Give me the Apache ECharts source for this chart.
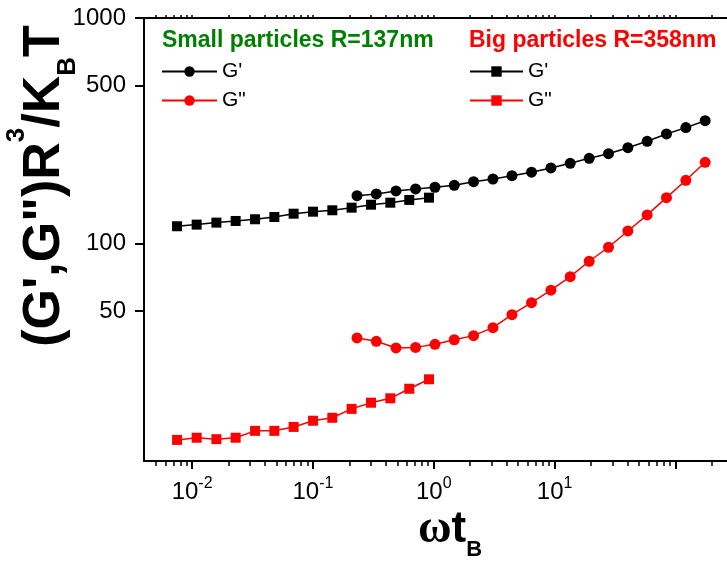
<!DOCTYPE html>
<html>
<head>
<meta charset="utf-8">
<script src="https://cdn.jsdelivr.net/npm/echarts@6/dist/echarts.min.js"></script>
<style>
html,body{margin:0;padding:0;background:#fff;}
#chart{width:727px;height:565px;}
</style>
</head>
<body>
<div id="chart"></div>
<script>
// ---- data ----
var bigX = [0.00751, 0.01091, 0.01589, 0.02294, 0.0332, 0.04794, 0.06923, 0.1002, 0.1447, 0.209, 0.3024, 0.4368, 0.6269, 0.9128];
var bigGp = [119, 121, 123.5, 125.6, 127.8, 130.8, 135.3, 138.1, 140.1, 143.9, 148.3, 151.4, 155.7, 159.4];
var bigGpp = [13.4, 13.7, 13.5, 13.7, 14.7, 14.7, 15.3, 16.3, 16.8, 18.4, 19.6, 20.5, 22.6, 24.9];

var smallX = [0.2316, 0.3345, 0.4867, 0.7069, 1.023, 1.477, 2.134, 3.088, 4.435, 6.441, 9.32, 13.46, 19.33, 27.92, 40.39, 58.33, 84.27, 121.9, 176.1];
var smallGp = [162.7, 165.5, 170.7, 174.2, 177.3, 180.9, 187.7, 192.9, 199.5, 206.8, 215.9, 226.5, 238.4, 249.8, 265.7, 283.6, 305.6, 326.1, 350.1];
var smallGpp = [38.0, 36.7, 34.3, 34.5, 35.6, 37.3, 38.9, 42.2, 48.2, 54.5, 61.9, 71.1, 83.2, 96.0, 113.4, 133.6, 159.4, 190.4, 228.8];

var xMajorTicks = [0.01, 0.1, 1, 10, 100];
var xLabelTicks = [0.01, 0.1, 1, 10];
var xMinorTicks = [0.005, 0.006, 0.007, 0.008, 0.009,
  0.02, 0.03, 0.04, 0.05, 0.06, 0.07, 0.08, 0.09,
  0.2, 0.3, 0.4, 0.5, 0.6, 0.7, 0.8, 0.9,
  2, 3, 4, 5, 6, 7, 8, 9,
  20, 30, 40, 50, 60, 70, 80, 90, 200];
var yTicks = [50, 100, 500, 1000];

var smallTitle = 'Small particles R=137nm';
var bigTitle = 'Big particles R=358nm';

function pairs(xs, ys) { return xs.map(function (x, i) { return [x, ys[i]]; }); }

var FONT = "'Liberation Sans', Arial, sans-serif";
var chart = echarts.init(document.getElementById('chart'), null, {renderer: 'canvas'});

var xCommon = {type: 'log', min: 0.004, max: 267, splitLine: {show: false}, gridIndex: 0};

var option = {
  animation: false,
  backgroundColor: '#ffffff',
  grid: {left: 144, top: 18, right: 0, bottom: 104, show: false},
  xAxis: [
    Object.assign({}, xCommon, {
      position: 'bottom',
      axisLine: {show: true, onZero: false, lineStyle: {color: '#000', width: 2}},
      axisTick: {show: true, length: 8, lineStyle: {color: '#000', width: 2}, customValues: xMajorTicks},
      axisLabel: {
        show: true, margin: 15, customValues: xLabelTicks, color: '#000', fontFamily: FONT,
        formatter: function (v) { return '{b|10}{s|' + Math.round(Math.log10(v)) + '}'; },
        rich: {
          b: {fontSize: 24, fontFamily: FONT, color: '#000'},
          s: {fontSize: 16, fontFamily: FONT, color: '#000', padding: [0, 0, 16, 0]}
        }
      }
    }),
    Object.assign({}, xCommon, {
      position: 'bottom',
      axisLine: {show: false, onZero: false},
      axisTick: {show: true, length: 5, lineStyle: {color: '#000', width: 1.5}, customValues: xMinorTicks},
      axisLabel: {show: false}
    }),
    Object.assign({}, xCommon, {
      position: 'top',
      axisLine: {show: true, onZero: false, lineStyle: {color: '#000', width: 2}},
      axisTick: {show: true, length: 3, lineStyle: {color: '#000', width: 1.5}, customValues: xMajorTicks.concat(xMinorTicks)},
      axisLabel: {show: false}
    })
  ],
  yAxis: [{
    type: 'log', min: 10.8, max: 1000, position: 'left',
    splitLine: {show: false},
    axisLine: {show: true, onZero: false, lineStyle: {color: '#000', width: 2}},
    axisTick: {show: true, length: 9, lineStyle: {color: '#000', width: 2}, customValues: yTicks},
    axisLabel: {
      show: true, margin: 18, customValues: yTicks, fontSize: 24, fontFamily: FONT, color: '#000',
      formatter: function (v) { return String(Math.round(v)); }
    }
  }],
  legend: [
    {
      data: ["G' small", 'G" small'], orient: 'vertical', left: 161, top: 61, padding: 0,
      itemWidth: 55, itemHeight: 13, itemGap: 8, selectedMode: false,
      textStyle: {fontSize: 21, fontFamily: FONT, color: '#000'},
      formatter: function (n) { return n.split(' ')[0]; }
    },
    {
      data: ["G' big", 'G" big'], orient: 'vertical', left: 469, top: 61, padding: 0,
      itemWidth: 53, itemHeight: 13, itemGap: 8, selectedMode: false,
      textStyle: {fontSize: 21, fontFamily: FONT, color: '#000'},
      formatter: function (n) { return n.split(' ')[0]; }
    }
  ],
  graphic: [
    {type: 'text', left: 162, top: 29, style: {text: smallTitle, fill: '#008000', font: 'bold 23px ' + FONT}},
    {type: 'text', left: 469, top: 29, style: {text: bigTitle, fill: '#ff0000', font: 'bold 23px ' + FONT}},
    {
      type: 'text', x: 45, y: 186, rotation: Math.PI / 2,
      style: {
        text: '{a|(G\',G")R}{s|3}{a|/K}{d|B}{a|T}',
        align: 'center', verticalAlign: 'middle',
        rich: {
          a: {fontSize: 52, fontWeight: 'bold', fontFamily: FONT, fill: '#000'},
          s: {fontSize: 26, fontWeight: 'bold', fontFamily: FONT, fill: '#000', padding: [0, 0, 56, 0]},
          d: {fontSize: 26, fontWeight: 'bold', fontFamily: FONT, fill: '#000', padding: [46, 0, 0, 0]}
        }
      }
    },
    {
      type: 'text', x: 450, y: 530,
      style: {
        text: '{w|ω}{a|t}{d|B}',
        align: 'center', verticalAlign: 'middle',
        rich: {
          w: {fontSize: 46, fontWeight: 'bold', fontFamily: "'Liberation Serif', 'DejaVu Serif', serif", fill: '#000'},
          a: {fontSize: 44, fontWeight: 'bold', fontFamily: FONT, fill: '#000'},
          d: {fontSize: 22, fontWeight: 'bold', fontFamily: FONT, fill: '#000', padding: [40, 0, 0, 0]}
        }
      }
    }
  ],
  series: [
    {
      name: "G' big", type: 'line', xAxisIndex: 0, yAxisIndex: 0,
      data: pairs(bigX, bigGp), symbol: 'rect', symbolSize: 10,
      itemStyle: {color: '#000'}, lineStyle: {color: '#000', width: 1.5}
    },
    {
      name: 'G" big', type: 'line', xAxisIndex: 0, yAxisIndex: 0,
      data: pairs(bigX, bigGpp), symbol: 'rect', symbolSize: 10,
      itemStyle: {color: '#ff0000'}, lineStyle: {color: '#ff0000', width: 1.5}
    },
    {
      name: "G' small", type: 'line', xAxisIndex: 0, yAxisIndex: 0,
      data: pairs(smallX, smallGp), symbol: 'circle', symbolSize: 11,
      itemStyle: {color: '#000'}, lineStyle: {color: '#000', width: 1.5}
    },
    {
      name: 'G" small', type: 'line', xAxisIndex: 0, yAxisIndex: 0,
      data: pairs(smallX, smallGpp), symbol: 'circle', symbolSize: 11,
      itemStyle: {color: '#ff0000'}, lineStyle: {color: '#ff0000', width: 1.5}
    }
  ]
};
chart.setOption(option);
</script>
</body>
</html>
